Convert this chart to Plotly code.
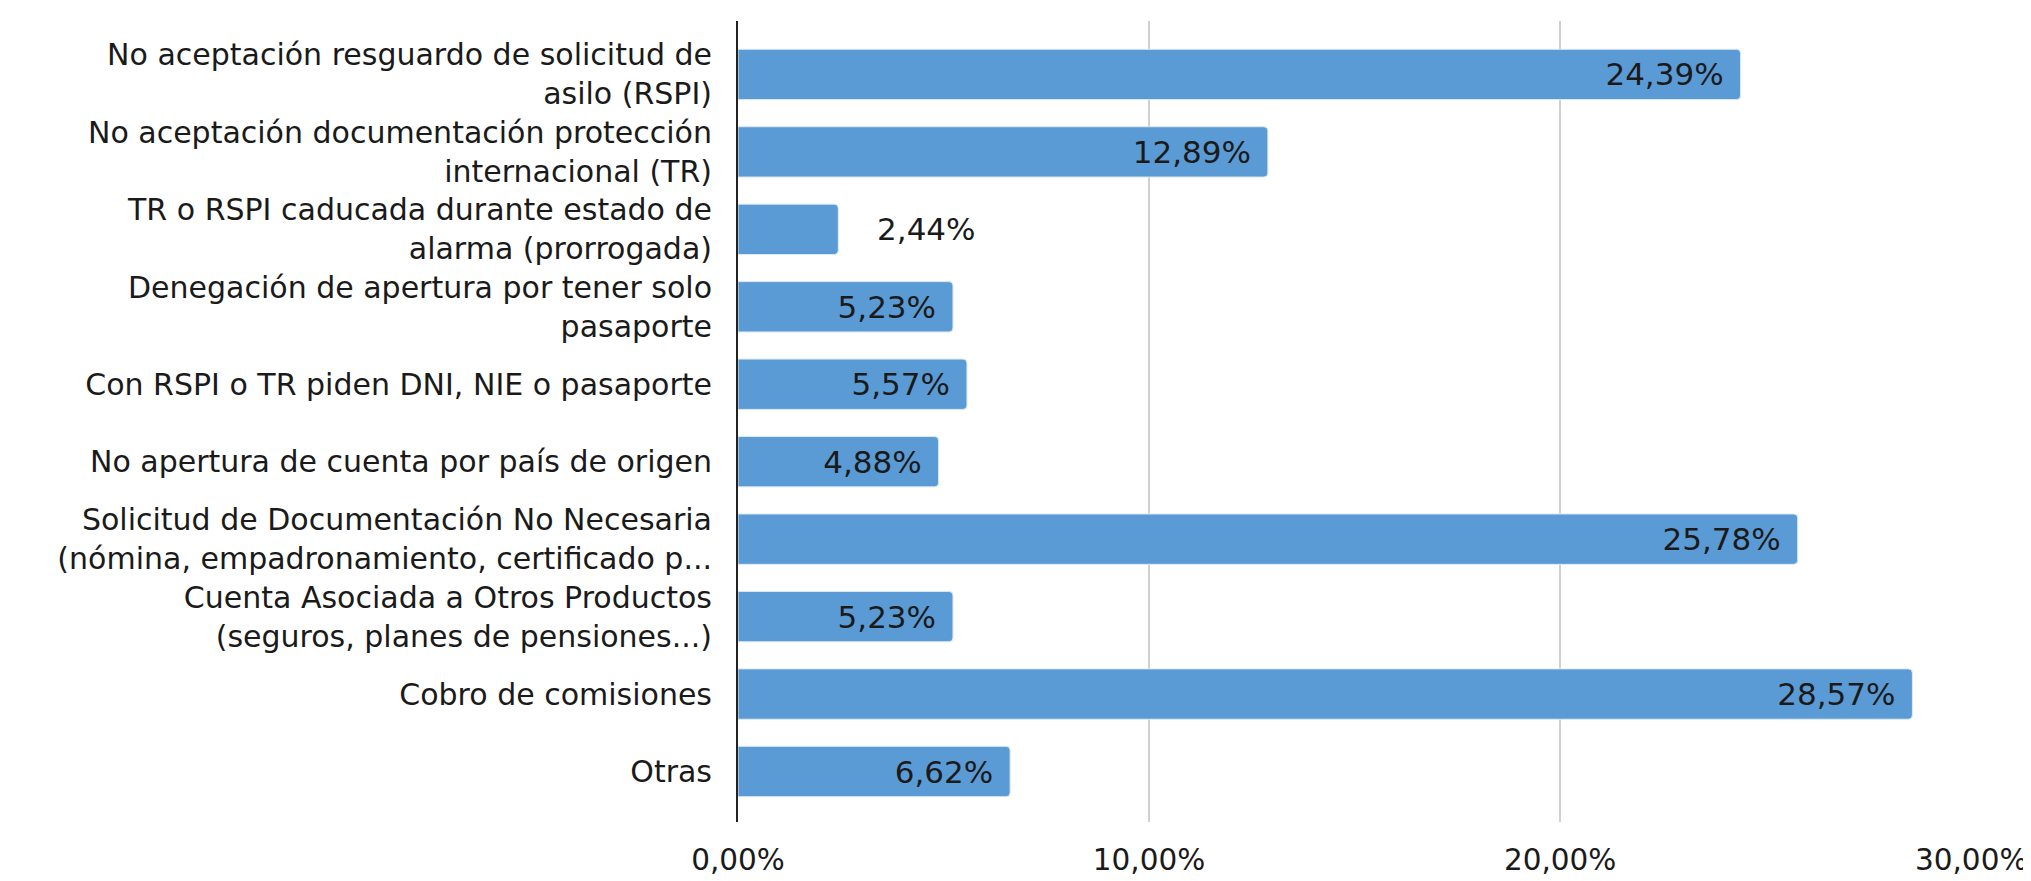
import plotly.graph_objects as go

categories = [
    "No aceptación resguardo de solicitud de<br>asilo (RSPI)",
    "No aceptación documentación protección<br>internacional (TR)",
    "TR o RSPI caducada durante estado de<br>alarma (prorrogada)",
    "Denegación de apertura por tener solo<br>pasaporte",
    "Con RSPI o TR piden DNI, NIE o pasaporte",
    "No apertura de cuenta por país de origen",
    "Solicitud de Documentación No Necesaria<br>(nómina, empadronamiento, certificado p...",
    "Cuenta Asociada a Otros Productos<br>(seguros, planes de pensiones...)",
    "Cobro de comisiones",
    "Otras",
]
values = [24.39, 12.89, 2.44, 5.23, 5.57, 4.88, 25.78, 5.23, 28.57, 6.62]
tick_values = [0, 10, 20, 30]
tick_labels = ["0,00%", "10,00%", "20,00%", "30,00%"]

def fmt(v):
    return f"{v:.2f}".replace(".", ",") + "%"

texts = []
positions = []
for v in values:
    if v < 4:
        texts.append("\u00a0\u00a0\u00a0\u2009" + fmt(v))
        positions.append("outside")
    else:
        texts.append(fmt(v) + "\u00a0\u200a")
        positions.append("inside")

label_font = dict(family="DejaVu Sans", size=31, color="#1a1a1a")

fig = go.Figure(
    go.Bar(
        x=values,
        y=categories,
        orientation="h",
        width=0.65,
        marker=dict(color="#5B9BD5", line=dict(color="#DDE8F4", width=1), cornerradius=4),
        text=texts,
        textposition=positions,
        insidetextanchor="end",
        textfont=label_font,
        insidetextfont=label_font,
        outsidetextfont=label_font,
        cliponaxis=False,
        constraintext="none",
    )
)

fig.update_layout(
    width=2031,
    height=881,
    margin=dict(l=730, r=63, t=13, b=47),
    paper_bgcolor="white",
    plot_bgcolor="white",
    showlegend=False,
    xaxis=dict(
        range=[0, 30.02],
        tickvals=tick_values,
        ticktext=tick_labels,
        showgrid=True,
        gridcolor="#D0D0D0",
        gridwidth=2,
        zeroline=False,
        showline=False,
        ticks="",
        ticklabelstandoff=17,
        tickfont=dict(family="DejaVu Sans", size=29.5, color="#1a1a1a"),
    ),
    yaxis=dict(
        type="category",
        range=[9.652, -0.69],
        showgrid=False,
        zeroline=False,
        showline=True,
        linecolor="#222222",
        linewidth=2,
        ticks="",
        ticklabelstandoff=18,
        tickfont=dict(family="DejaVu Sans", size=30, color="#1a1a1a"),
    ),
)

fig.write_html("out.html")
